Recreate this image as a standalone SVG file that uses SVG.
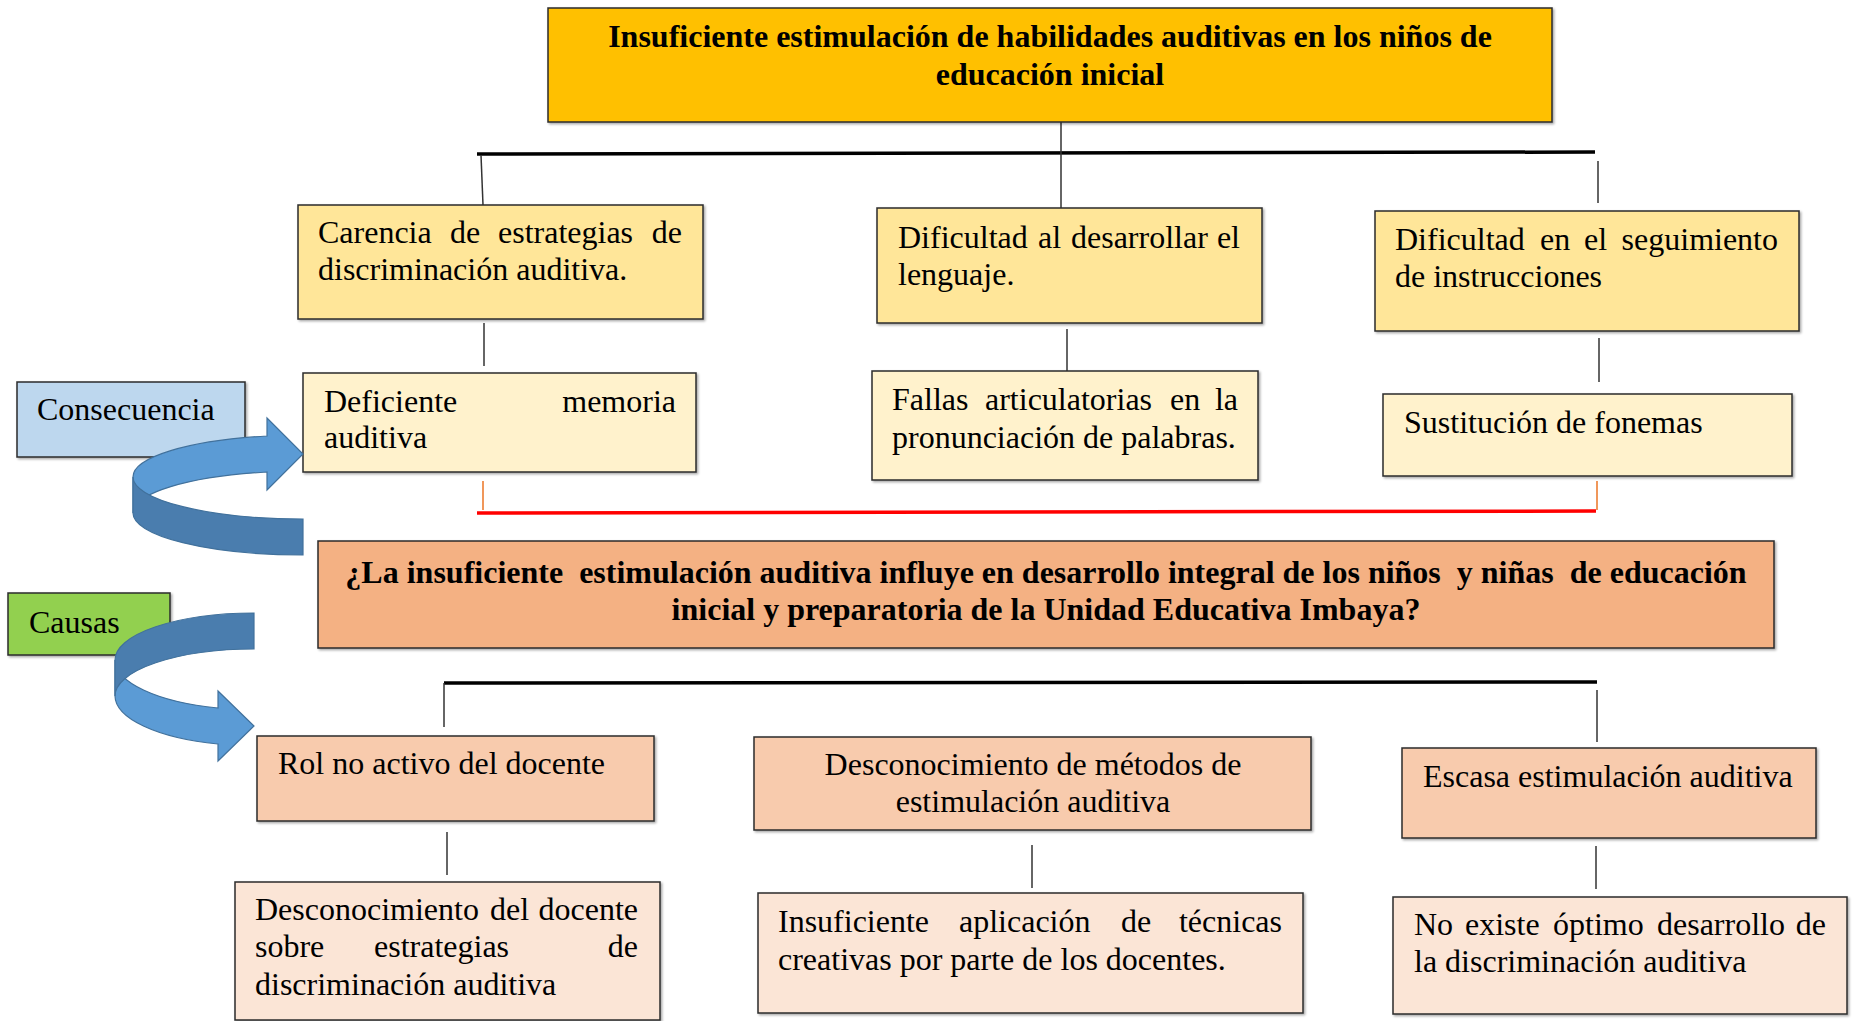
<svg xmlns="http://www.w3.org/2000/svg" width="1856" height="1021" viewBox="0 0 1856 1021">
<style>
  text { font-family: "Liberation Serif", "Times New Roman", serif; font-size: 32px; fill: #000; }
  .b { font-weight: bold; }
  .c { text-anchor: middle; }
  .e { text-anchor: end; }
  .pre { white-space: pre; }
  .box { stroke: #2b2b2b; stroke-width: 1.5; filter: url(#sh); }
  .ln { stroke: #333; stroke-width: 1.5; fill: none; }
  .thick { stroke: #000; stroke-width: 3.5; fill: none; }
  .red { stroke: #FF0000; stroke-width: 3.5; fill: none; }
  .org { stroke: #ED7D31; stroke-width: 1.6; fill: none; }
  .alight { fill: #5B9BD5; stroke: #41719C; stroke-width: 1.2; }
  .adark { fill: #4A7DAE; stroke: #41719C; stroke-width: 1.2; }
</style>
<defs>
  <filter id="sh" x="-5%" y="-5%" width="110%" height="115%">
    <feDropShadow dx="1.5" dy="1.5" stdDeviation="0.8" flood-color="#000" flood-opacity="0.35"/>
  </filter>
</defs>
<rect width="1856" height="1021" fill="#fff"/>

<g id="connectors">
  <line class="thick" x1="477" y1="154" x2="1595" y2="152"/>
  <line class="ln" x1="1061" y1="122" x2="1061" y2="208"/>
  <line class="ln" x1="481" y1="155" x2="483" y2="205"/>
  <line class="ln" x1="1598" y1="161" x2="1598" y2="203"/>
  <line class="ln" x1="484" y1="323" x2="484" y2="366"/>
  <line class="ln" x1="1067" y1="329" x2="1067" y2="372"/>
  <line class="ln" x1="1599" y1="338" x2="1599" y2="382"/>
  <line class="org" x1="483" y1="481" x2="483" y2="510"/>
  <line class="org" x1="1597" y1="481" x2="1597" y2="510"/>
  <line class="red" x1="477" y1="513" x2="1596" y2="511"/>
  <line class="thick" x1="444" y1="683" x2="1597" y2="682"/>
  <line class="ln" x1="444" y1="683" x2="444" y2="727"/>
  <line class="ln" x1="1597" y1="690" x2="1597" y2="742"/>
  <line class="ln" x1="447" y1="832" x2="447" y2="875"/>
  <line class="ln" x1="1032" y1="845" x2="1032" y2="888"/>
  <line class="ln" x1="1596" y1="846" x2="1596" y2="889"/>
</g>

<g id="problema-efecto">
  <rect class="box" x="548" y="8" width="1004" height="114" fill="#FFC000"/>
  <text class="b c" x="1050" y="47">Insuficiente estimulación de habilidades auditivas en los niños de</text>
  <text class="b c" x="1050" y="85">educación inicial</text>
</g>

<g id="efecto-1">
  <rect class="box" x="298" y="205" width="405" height="114" fill="#FFE699"/>
  <text y="243"><tspan x="318">Carencia</tspan><tspan x="450">de</tspan><tspan x="498">estrategias</tspan></text>
  <text class="e" x="682" y="243">de</text>
  <text x="318" y="280">discriminación auditiva.</text>
</g>

<g id="efecto-2">
  <rect class="box" x="877" y="208" width="385" height="115" fill="#FFE699"/>
  <text y="248"><tspan x="898">Dificultad</tspan><tspan x="1038">al</tspan><tspan x="1071">desarrollar</tspan></text>
  <text class="e" x="1240" y="248">el</text>
  <text x="898" y="285">lenguaje.</text>
</g>

<g id="efecto-3">
  <rect class="box" x="1375" y="211" width="424" height="120" fill="#FFE699"/>
  <text y="250"><tspan x="1395">Dificultad</tspan><tspan x="1540">en</tspan><tspan x="1584">el</tspan></text>
  <text class="e" x="1778" y="250">seguimiento</text>
  <text x="1395" y="287">de instrucciones</text>
</g>

<g id="efecto-1-1">
  <rect class="box" x="303" y="373" width="393" height="99" fill="#FFF2CC"/>
  <text x="324" y="412">Deficiente</text>
  <text class="e" x="676" y="412">memoria</text>
  <text x="324" y="448">auditiva</text>
</g>

<g id="efecto-2-1">
  <rect class="box" x="872" y="371" width="386" height="109" fill="#FFF2CC"/>
  <text y="410"><tspan x="892">Fallas</tspan><tspan x="985">articulatorias</tspan><tspan x="1170">en</tspan></text>
  <text class="e" x="1238" y="410">la</text>
  <text x="892" y="448">pronunciación de palabras.</text>
</g>

<g id="efecto-3-1">
  <rect class="box" x="1383" y="394" width="409" height="82" fill="#FFF2CC"/>
  <text x="1404" y="433">Sustitución de fonemas</text>
</g>

<g id="consecuencia">
  <rect class="box" x="17" y="382" width="228" height="75" fill="#BDD7EE"/>
  <text x="37" y="420">Consecuencia</text>
</g>

<g id="flecha-consecuencia">
  <path class="alight" d="M133,477 A170,42 0 0,1 267,436 L267,418 L303,454 L267,490 L267,472 A170,42 0 0,0 133,513 Z"/>
  <path class="adark" d="M133,477 A170,42 0 0,0 303,519 L303,555 A170,42 0 0,1 133,513 Z"/>
</g>

<g id="problema">
  <rect class="box" x="318" y="541" width="1456" height="107" fill="#F4B183"/>
  <text class="b c pre" x="1046" y="583">¿La insuficiente  estimulación auditiva influye en desarrollo integral de los niños  y niñas  de educación</text>
  <text class="b c" x="1046" y="620">inicial y preparatoria de la Unidad Educativa Imbaya?</text>
</g>

<g id="causas">
  <rect class="box" x="8" y="593" width="162" height="62" fill="#92D050"/>
  <text x="29" y="633">Causas</text>
</g>

<g id="flecha-causas">
  <path class="alight" d="M115,660 A139,50 0 0,0 218,708 L218,691 L254,726 L218,761 L218,744 A139,50 0 0,1 115,696 Z"/>
  <path class="adark" d="M115,660 A139,47 0 0,1 254,613 L254,649 A139,47 0 0,0 115,696 Z"/>
</g>

<g id="causa-1">
  <rect class="box" x="257" y="736" width="397" height="85" fill="#F8CBAD"/>
  <text x="278" y="774">Rol no activo del docente</text>
</g>

<g id="causa-2">
  <rect class="box" x="754" y="737" width="557" height="93" fill="#F8CBAD"/>
  <text class="c" x="1033" y="775">Desconocimiento de métodos de</text>
  <text class="c" x="1033" y="812">estimulación auditiva</text>
</g>

<g id="causa-3">
  <rect class="box" x="1402" y="748" width="414" height="90" fill="#F8CBAD"/>
  <text x="1423" y="787">Escasa estimulación auditiva</text>
</g>

<g id="causa-1-1">
  <rect class="box" x="235" y="882" width="425" height="138" fill="#FBE5D6"/>
  <text y="920"><tspan x="255">Desconocimiento</tspan><tspan x="490">del</tspan></text>
  <text class="e" x="638" y="920">docente</text>
  <text y="957"><tspan x="255">sobre</tspan><tspan x="374">estrategias</tspan></text>
  <text class="e" x="638" y="957">de</text>
  <text x="255" y="995">discriminación auditiva</text>
</g>

<g id="causa-2-1">
  <rect class="box" x="758" y="893" width="545" height="120" fill="#FBE5D6"/>
  <text y="932"><tspan x="778">Insuficiente</tspan><tspan x="959">aplicación</tspan><tspan x="1121">de</tspan></text>
  <text class="e" x="1282" y="932">técnicas</text>
  <text x="778" y="970">creativas por parte de los docentes.</text>
</g>

<g id="causa-3-1">
  <rect class="box" x="1393" y="897" width="454" height="117" fill="#FBE5D6"/>
  <text y="935"><tspan x="1414">No</tspan><tspan x="1465">existe</tspan><tspan x="1553">óptimo</tspan><tspan x="1657">desarrollo</tspan></text>
  <text class="e" x="1826" y="935">de</text>
  <text x="1414" y="972">la discriminación auditiva</text>
</g>
</svg>
